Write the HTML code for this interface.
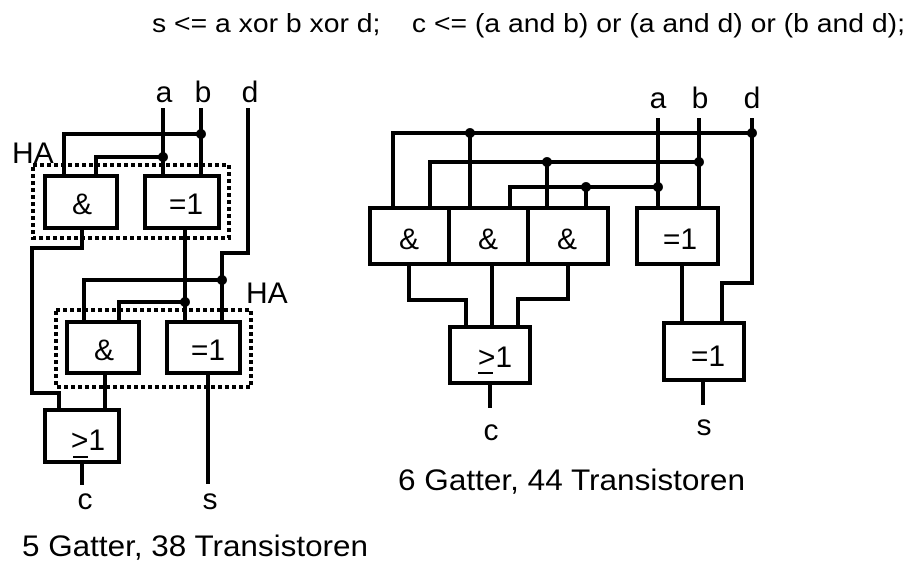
<!DOCTYPE html>
<html><head><style>body{margin:0;background:#fff}svg{display:block}</style></head><body>
<svg width="912" height="575" viewBox="0 0 912 575" xmlns="http://www.w3.org/2000/svg" font-family="Liberation Sans, sans-serif">
<rect width="912" height="575" fill="#fff"/>
<text x="152" y="32" font-size="26" textLength="753" lengthAdjust="spacingAndGlyphs" style="white-space:pre" xml:space="preserve">s &lt;= a xor b xor d;    c &lt;= (a and b) or (a and d) or (b and d);</text>
<g fill="none" stroke="#000" stroke-width="4">
<polyline points="163,108 163,176"/><polyline points="201,108 201,176"/>
<polyline points="64,176 64,134 201,134"/><polyline points="96,176 96,157 163,157"/>
<polyline points="248,108 248,253 222,253 222,322"/>
<polyline points="84,322 84,280 222,280"/><polyline points="119,322 119,302 185,302"/>
<polyline points="185,228 185,322"/>
<polyline points="82,228 82,248 32,248 32,393 59,393 59,410"/>
<polyline points="105,373 105,410"/><polyline points="208,373 208,484"/><polyline points="82,462 82,485"/>
<rect x="45" y="176" width="72" height="52"/><rect x="145" y="176" width="74" height="52"/>
<rect x="67" y="322" width="72" height="51"/><rect x="167" y="322" width="73" height="51"/>
<rect x="45" y="410" width="74" height="52"/>
<rect x="33" y="165" width="196" height="73" stroke-dasharray="4,3"/>
<rect x="56" y="310" width="195" height="77" stroke-dasharray="4,3"/>
<polyline points="658,118 658,208"/><polyline points="699,118 699,208"/>
<polyline points="393,208 393,133 752,133"/><polyline points="470,133 470,208"/>
<polyline points="430,208 430,162 699,162"/><polyline points="547,162 547,208"/>
<polyline points="510,208 510,187 658,187"/><polyline points="586,187 586,208"/>
<polyline points="752,118 752,283 722,283 722,323"/>
<rect x="370" y="208" width="238" height="56"/><line x1="449" y1="208" x2="449" y2="264"/><line x1="528" y1="208" x2="528" y2="264"/>
<rect x="637" y="208" width="81" height="56"/>
<polyline points="409,264 409,300 466,300 466,327"/><polyline points="492,264 492,327"/><polyline points="568,264 568,299 518,299 518,327"/>
<rect x="450" y="327" width="80" height="56"/><polyline points="490,383 490,408"/>
<polyline points="682,264 682,323"/>
<rect x="664" y="323" width="80" height="57"/><polyline points="703,380 703,405"/>
</g>
<g fill="#000">
<circle cx="201" cy="134" r="5"/><circle cx="163" cy="157" r="5"/><circle cx="222" cy="280" r="5"/><circle cx="185" cy="302" r="5"/>
<circle cx="470" cy="133" r="5"/><circle cx="752" cy="133" r="5"/><circle cx="547" cy="162" r="5"/><circle cx="699" cy="162" r="5"/><circle cx="586" cy="187" r="5"/><circle cx="658" cy="187" r="5"/>
</g>
<g font-size="30" text-anchor="middle">
<text x="164" y="102">a</text><text x="203" y="102">b</text><text x="250" y="102">d</text>
<text x="82" y="214">&amp;</text><text x="186" y="214">=1</text>
<text x="104" y="360">&amp;</text><text x="208" y="360">=1</text>
<text x="88" y="450">&gt;1</text>
<text x="85" y="509">c</text><text x="210" y="509">s</text>
<text x="658" y="108">a</text><text x="700" y="108">b</text><text x="752" y="108">d</text>
<text x="409" y="249">&amp;</text><text x="488" y="249">&amp;</text><text x="567" y="249">&amp;</text><text x="680" y="249">=1</text>
<text x="495" y="367">&gt;1</text><text x="708" y="366">=1</text>
<text x="491" y="440">c</text><text x="704" y="435">s</text>
</g>
<rect x="73" y="456" width="15" height="2" fill="#000"/>
<rect x="478" y="372" width="15" height="2" fill="#000"/>
<g font-size="30">
<text x="12" y="163">HA</text><text x="246" y="303">HA</text>
<text x="398" y="490" textLength="347" lengthAdjust="spacingAndGlyphs">6 Gatter, 44 Transistoren</text>
<text x="22" y="556" textLength="346" lengthAdjust="spacingAndGlyphs">5 Gatter, 38 Transistoren</text>
</g>
</svg>
</body></html>
